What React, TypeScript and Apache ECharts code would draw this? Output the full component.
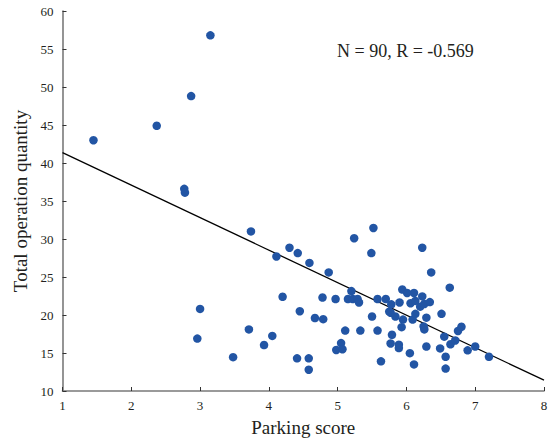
import React, { useEffect, useRef } from "react";
import * as echarts from "echarts";

const parkingScore: number[] = [
  1.45, 2.37, 2.87, 3.15, 2.77, 2.78, 3.74, 3.0, 2.96, 3.48,
  3.71, 3.93, 4.05, 4.11, 4.2, 4.3, 4.42, 4.45, 4.41, 4.58,
  4.58, 4.59, 4.67, 4.78, 4.79, 4.87, 4.97, 4.98, 5.05, 5.07,
  5.11, 5.15, 5.2, 5.22, 5.24, 5.29, 5.31, 5.33, 5.49, 5.52,
  5.5, 5.58, 5.58, 5.63, 5.7, 5.78, 5.75, 5.77, 5.79, 5.77,
  5.84, 5.89, 5.89, 5.9, 5.93, 5.94, 5.95, 6.01, 6.05, 6.06,
  6.09, 6.11, 6.11, 6.13, 6.13, 6.2, 6.23, 6.23, 6.26, 6.25,
  6.26, 6.29, 6.29, 6.34, 6.36, 6.49, 6.51, 6.55, 6.57, 6.57,
  6.63, 6.64, 6.71, 6.75, 6.8, 6.89, 7.0, 7.2,
];

const totalOperation: number[] = [
  43.0, 44.9, 48.8, 56.8, 36.6, 36.1, 31.0, 20.8, 16.9, 14.45,
  18.1, 16.05, 17.25, 27.7, 22.4, 28.85, 28.15, 20.5, 14.3, 14.3,
  12.8, 26.85, 19.6, 22.3, 19.45, 25.6, 22.1, 15.4, 16.3, 15.5,
  17.95, 22.1, 23.15, 22.1, 30.1, 22.1, 21.65, 17.95, 28.15, 31.45,
  19.8, 22.1, 17.95, 13.9, 22.1, 21.4, 20.45, 20.3, 17.4, 16.25,
  19.8, 16.1, 15.65, 21.65, 18.4, 23.35, 19.4, 22.9, 14.98, 21.55,
  19.4, 22.9, 13.5, 21.85, 20.15, 21.1, 28.85, 22.45, 21.45, 18.5,
  18.1, 19.65, 15.85, 21.7, 25.6, 15.6, 20.15, 17.15, 14.5, 12.95,
  23.6, 16.15, 16.65, 17.9, 18.45, 15.35, 15.85, 14.5,
];

const fitX: number[] = [1, 8];
const fitY: number[] = [41.37, 11.42];

const xTicks = { min: 1, max: 8, interval: 1 };
const yTicks = { min: 10, max: 60, interval: 5 };

const annotation = "N = 90, R = -0.569";
const xName = "Parking score";
const yName = "Total operation quantity";

export default function App() {
  const ref = useRef<HTMLDivElement>(null);
  useEffect(() => {
    if (!ref.current) return;
    const chart = echarts.init(ref.current, undefined, { renderer: "svg" });
    const font = "'Liberation Serif', 'Times New Roman', serif";
    const axisLine = { show: true, lineStyle: { color: "#7a7a7a", width: 1.6 } };
    chart.setOption({
      animation: false,
      backgroundColor: "#ffffff",
      grid: {
        left: 62.5,
        right: 4,
        top: 11,
        bottom: 48,
        containLabel: false,
        outerBoundsMode: "none",
      },
      xAxis: {
        type: "value",
        min: xTicks.min,
        max: xTicks.max,
        interval: xTicks.interval,
        name: xName,
        nameLocation: "middle",
        nameGap: 27,
        nameTextStyle: { fontFamily: font, fontSize: 19, color: "#231f20" },
        axisLine,
        axisTick: { show: true, inside: true, length: 4, lineStyle: { color: "#333", width: 1 } },
        axisLabel: { fontFamily: font, fontSize: 13, color: "#231f20", margin: 8 },
        splitLine: { show: false },
      },
      yAxis: {
        type: "value",
        min: yTicks.min,
        max: yTicks.max,
        interval: yTicks.interval,
        name: yName,
        nameLocation: "middle",
        nameGap: 27,
        nameRotate: 90,
        nameTextStyle: { fontFamily: font, fontSize: 19, color: "#231f20" },
        axisLine,
        axisTick: { show: true, inside: true, length: 4, lineStyle: { color: "#333", width: 1 } },
        axisLabel: { fontFamily: font, fontSize: 13, color: "#231f20", margin: 9 },
        splitLine: { show: false },
      },
      graphic: [
        {
          type: "text",
          left: 337,
          top: 42,
          style: {
            text: annotation,
            font: `18px ${font}`,
            fill: "#231f20",
          },
        },
      ],
      series: [
        {
          type: "line",
          data: fitX.map((x, i) => [x, fitY[i]]),
          symbol: "none",
          lineStyle: { color: "#000000", width: 1.3 },
          z: 1,
        },
        {
          type: "scatter",
          data: parkingScore.map((x, i) => [x, totalOperation[i]]),
          symbolSize: 8.5,
          itemStyle: { color: "#2255a4", opacity: 1 },
          z: 2,
        },
      ],
    });
    return () => chart.dispose();
  }, []);
  return <div ref={ref} style={{ width: 548, height: 439, position: "absolute", left: 0, top: 0 }} />;
}
